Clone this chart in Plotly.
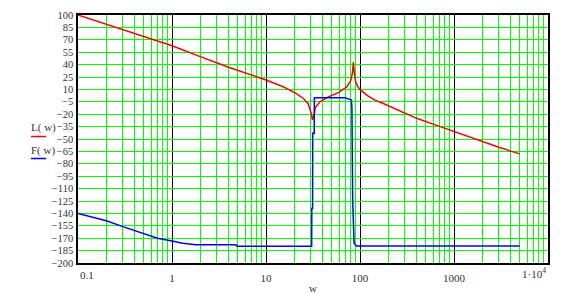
import plotly.graph_objects as go

# L(w) — magnitude curve
L_w = [0.1, 0.2, 0.3, 0.5, 0.7, 1, 2, 4, 10, 15, 20, 25, 28, 29.4, 30.5, 31.1, 32.4, 33.5,
       37.5, 46, 59, 72, 80, 83, 85, 87, 90, 95, 100, 118, 144, 177, 250, 400, 600, 1000,
       2000, 3000, 5000]
L_val = [100, 88.8, 82.3, 74.2, 68.7, 62.8, 49.6, 36.8, 21.4, 13.5, 6.5, -1, -7, -14, -20, -27, -21, -12,
         -5, 1, 6, 13, 21, 30, 43, 30, 19, 13, 10, 3, -3, -7, -15, -25, -32, -41,
         -53, -60, -68]

# F(w) — phase curve
F_w = [0.1, 0.2, 0.3, 0.5, 0.7, 1, 1.3, 1.8, 4.8, 4.9, 30.6, 30.7, 31.3, 31.4, 32.6, 32.7,
       69, 81, 82, 83.5, 86.5, 92, 5000]
F_val = [-140, -149, -156, -164, -170, -173.4, -176, -178, -178, -179.6, -179.6, -134, -134, -43, -43, 0,
         0, -3, -12, -122, -176, -179.5, -179.5]

y_ticks = list(range(-200, 101, 15))
x_major = [1, 10, 100, 1000]
x_major_text = ["1", "10", "100", "1000"]
x_minor = [m * 10 ** d for d in range(-1, 4) for m in range(2, 10)]

FONT = "Liberation Serif"
GREEN = "#00ff00"
PLOT_L, PLOT_T, PLOT_W, PLOT_H = 78, 15, 470, 248

fig = go.Figure()
fig.add_trace(go.Scatter(x=L_w, y=L_val, mode="lines", line=dict(color="#ff0000", width=1.5),
                         showlegend=False))
fig.add_trace(go.Scatter(x=F_w, y=F_val, mode="lines", line=dict(color="#0000ff", width=1.5),
                         showlegend=False))

fig.update_layout(
    width=564, height=293,
    margin=dict(l=PLOT_L, r=564 - PLOT_L - PLOT_W, t=PLOT_T, b=293 - PLOT_T - PLOT_H),
    paper_bgcolor="white", plot_bgcolor="white",
    font=dict(family=FONT, size=11, color="#333333"),
    xaxis=dict(type="log", range=[-1, 4], tickvals=x_major, ticktext=x_major_text,
               showgrid=True, gridcolor="black", gridwidth=1,
               minor=dict(tickvals=x_minor, showgrid=True, gridcolor=GREEN, gridwidth=1),
               showline=True, linecolor="black", linewidth=1.5, mirror=True,
               ticks="", ticklabelstandoff=4, zeroline=False, automargin=False,
               tickfont=dict(family=FONT, size=11)),
    yaxis=dict(range=[-200, 100], tickvals=y_ticks, showgrid=True, gridcolor=GREEN, gridwidth=1,
               showline=True, linecolor="black", linewidth=1.5, mirror=True,
               ticks="", zeroline=False, ticklabelstandoff=1, automargin=False,
               tickfont=dict(family=FONT, size=10.5)),
)

# end x tick labels (left / right aligned like the original)
fig.add_annotation(x=-1, y=0, xref="x", yref="paper", text="0.1", showarrow=False,
                   xanchor="left", yanchor="top", yshift=-4, font=dict(family=FONT, size=11))
fig.add_annotation(x=4, y=0, xref="x", yref="paper", text="1·10<sup>4</sup>", showarrow=False,
                   xanchor="right", yanchor="top", yshift=-1, font=dict(family=FONT, size=11))

# x axis title
fig.add_annotation(x=0.5, y=-(288 - PLOT_T - PLOT_H) / PLOT_H, xref="paper", yref="paper",
                   text="w", showarrow=False, xanchor="center", yanchor="middle",
                   font=dict(family=FONT, size=11))

# legend labels
for txt, ypix, col in [("L( w)", 128, "#ff0000"), ("F( w)", 150, "#0000ff")]:
    yp = 1 - (ypix - PLOT_T) / PLOT_H
    fig.add_annotation(x=(30 - PLOT_L) / PLOT_W, y=yp, xref="paper", yref="paper", text=txt,
                       showarrow=False, xanchor="left", yanchor="middle", borderpad=0,
                       font=dict(family=FONT, size=11))
    ly = 1 - (ypix + 8.5 - PLOT_T) / PLOT_H
    fig.add_shape(type="line", xref="paper", yref="paper",
                  x0=(31 - PLOT_L) / PLOT_W, x1=(46 - PLOT_L) / PLOT_W, y0=ly, y1=ly,
                  line=dict(color=col, width=1.5))

fig.write_html("out.html")
